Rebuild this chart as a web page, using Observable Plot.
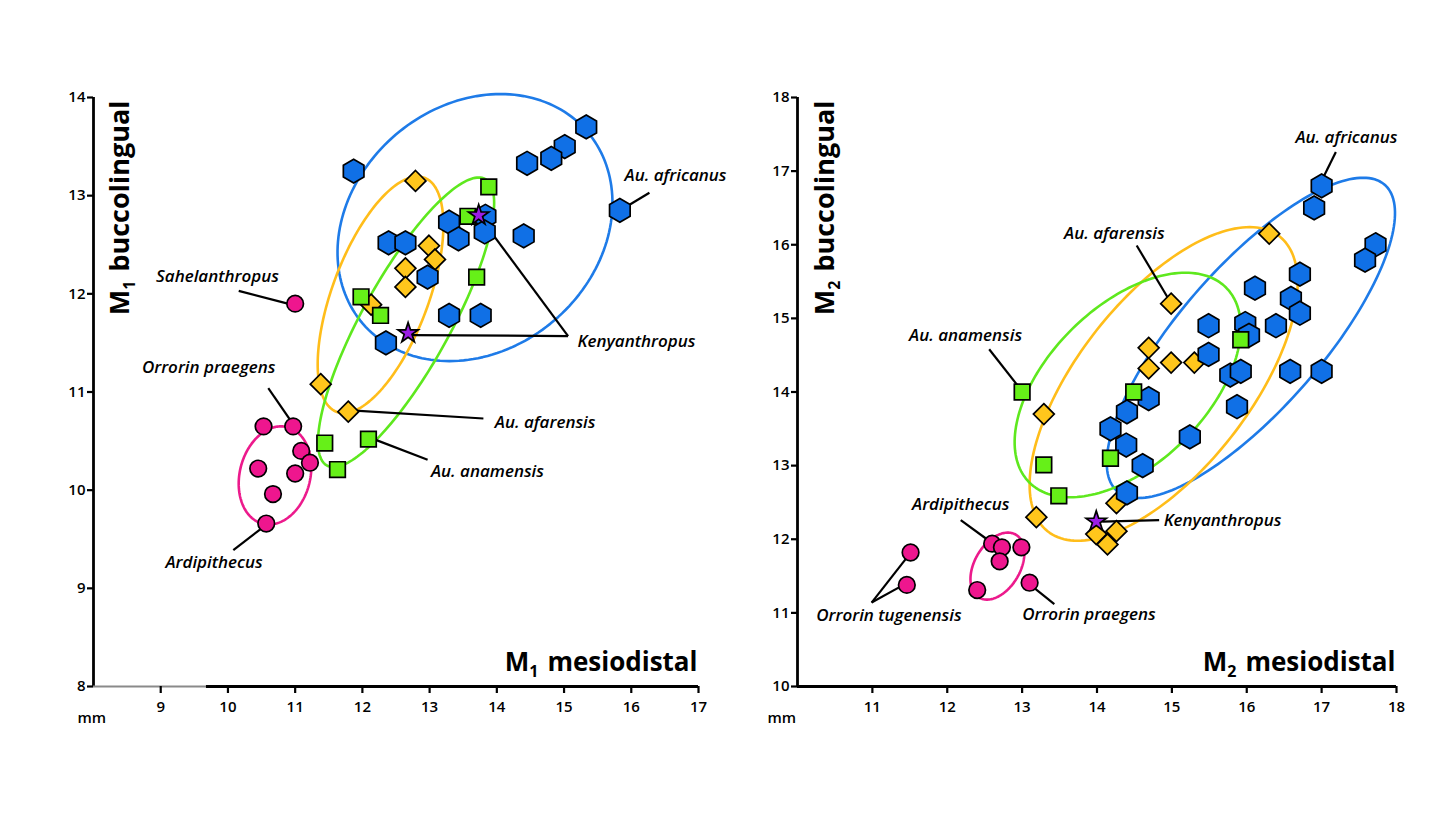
<!DOCTYPE html>
<html><head><meta charset="utf-8">
<script src="https://cdn.jsdelivr.net/npm/d3@7"></script>
<script src="https://cdn.jsdelivr.net/npm/@observablehq/plot@0.6"></script>
<style>
html,body{margin:0;padding:0;background:#fff;}
#wrap{position:relative;width:1456px;height:819px;overflow:hidden;}
#wrap > div{position:absolute;top:0;}
</style></head><body><div id="wrap"><div id="p1" style="left:0"></div><div id="p2" style="left:728px"></div></div>
<script>
// ---------- M1 (left panel) ----------
const m1PinkX = [11.0, 10.53, 10.97, 11.09, 11.22, 11.0, 10.45, 10.67, 10.57];
const m1PinkY = [11.9, 10.65, 10.65, 10.40, 10.28, 10.17, 10.22, 9.96, 9.66];
const m1AfarX = [12.79, 12.99, 13.08, 12.64, 12.64, 12.13, 11.38, 11.79];
const m1AfarY = [13.15, 12.49, 12.35, 12.26, 12.07, 11.89, 11.08, 10.80];
const m1AnamX = [13.88, 13.57, 13.70, 11.98, 12.27, 11.44, 12.09, 11.63];
const m1AnamY = [13.09, 12.79, 12.17, 11.97, 11.78, 10.48, 10.52, 10.21];
const m1AfrX = [11.87, 15.33, 15.01, 14.81, 14.45, 15.83, 14.40, 13.29, 13.43, 13.83, 13.82, 12.39, 12.64, 12.97, 13.29, 13.76, 12.35];
const m1AfrY = [13.25, 13.70, 13.50, 13.38, 13.33, 12.85, 12.59, 12.73, 12.56, 12.79, 12.63, 12.52, 12.52, 12.17, 11.78, 11.78, 11.50];
const m1KenX = [13.73, 12.68];
const m1KenY = [12.80, 11.60];
// ellipses: africanus, afarensis, anamensis, ardipithecus
const m1EllCx = [13.675, 12.27, 12.65, 10.70];
const m1EllCy = [12.675, 11.99, 11.71, 10.15];
const m1EllW  = [2.045, 0.935, 1.31, 0.54];
const m1EllH  = [1.36, 1.205, 1.475, 0.50];
const m1EllDx = [0.38, 0.55, 1.08, 0.09];
const m1LabelText = ["Au. africanus", "Kenyanthropus", "Sahelanthropus", "Orrorin praegens", "Au. afarensis", "Au. anamensis", "Ardipithecus"];
const m1LabelX = [15.90, 15.20, 8.93, 8.72, 13.97, 13.02, 9.07];
const m1LabelY = [13.20, 11.51, 12.18, 11.25, 10.69, 10.19, 9.26];
const m1LeadX1 = [16.27, 15.06, 15.06, 10.16, 10.60, 10.08, 11.89, 12.17];
const m1LeadY1 = [13.03, 11.57, 11.57, 12.03, 11.04, 9.39, 10.81, 10.52];
const m1LeadX2 = [15.98, 13.73, 12.72, 10.89, 10.92, 10.50, 13.80, 12.97];
const m1LeadY2 = [12.91, 12.80, 11.58, 11.90, 10.72, 9.61, 10.73, 10.31];
const m1XTicks = [9, 10, 11, 12, 13, 14, 15, 16, 17];
const m1YTicks = [8, 9, 10, 11, 12, 13, 14];

// ---------- M2 (right panel) ----------
const m2PinkX = [11.51, 11.46, 12.60, 12.73, 12.70, 12.99, 12.40, 13.10];
const m2PinkY = [11.82, 11.38, 11.94, 11.89, 11.70, 11.89, 11.31, 11.41];
const m2AfarX = [16.30, 14.99, 14.69, 14.69, 14.99, 15.30, 13.29, 14.26, 13.19, 13.99, 14.26, 14.14];
const m2AfarY = [16.15, 15.20, 14.60, 14.32, 14.40, 14.40, 13.70, 12.49, 12.30, 12.07, 12.11, 11.93];
const m2AnamX = [13.00, 14.49, 15.92, 13.29, 14.18, 13.49];
const m2AnamY = [14.00, 14.00, 14.71, 13.01, 13.10, 12.59];
const m2AfrX = [17.00, 16.90, 17.72, 17.58, 16.71, 16.11, 16.59, 16.71, 15.49, 15.98, 16.39, 16.03, 15.49, 15.78, 15.92, 16.58, 17.00, 15.87, 14.69, 14.40, 14.18, 14.39, 14.61, 15.24, 14.40];
const m2AfrY = [16.80, 16.50, 16.00, 15.79, 15.60, 15.41, 15.27, 15.07, 14.90, 14.93, 14.90, 14.77, 14.51, 14.23, 14.28, 14.28, 14.28, 13.80, 13.91, 13.73, 13.50, 13.28, 13.00, 13.39, 12.63];
const m2KenX = [13.99];
const m2KenY = [12.24];
const m2EllCx = [16.055, 14.89, 14.41, 12.67];
const m2EllCy = [14.735, 14.11, 14.095, 11.635];
const m2EllW  = [1.925, 1.79, 1.51, 0.36];
const m2EllH  = [2.175, 2.13, 1.525, 0.455];
const m2EllDx = [1.5, 1.15, 0.77, 0.14];
const m2LabelText = ["Au. africanus", "Au. afarensis", "Au. anamensis", "Ardipithecus", "Kenyanthropus", "Orrorin tugenensis", "Orrorin praegens"];
const m2LabelX = [16.65, 13.56, 11.49, 11.53, 14.89, 10.25, 13.00];
const m2LabelY = [17.45, 16.15, 14.77, 12.47, 12.25, 10.96, 10.98];
const m2LeadX1 = [17.19, 14.53, 12.56, 12.18, 14.07, 10.99, 10.99, 13.16];
const m2LeadY1 = [17.26, 15.99, 14.58, 12.26, 12.24, 11.14, 11.14, 11.34];
const m2LeadX2 = [17.03, 14.94, 12.97, 12.53, 14.83, 11.46, 11.38, 13.43];
const m2LeadY2 = [16.93, 15.29, 14.05, 12.00, 12.26, 11.75, 11.36, 11.12];
const m2XTicks = [11, 12, 13, 14, 15, 16, 17, 18];
const m2YTicks = [10, 11, 12, 13, 14, 15, 16, 17, 18];

// ---------- styling ----------
const C = {blue: "#1070e6", blueLine: "#1e7be8", yellow: "#ffc61c", yellowLine: "#ffbd1a",
  green: "#66f018", greenLine: "#5ee81e", pink: "#ee168e", pinkLine: "#ec1a8c", purple: "#9b1ee6"};
const ellColors = [C.blueLine, C.yellowLine, C.greenLine, C.pinkLine];
const FONT = "'Open Sans', 'Noto Sans', sans-serif";

const hexagon = {
  draw(ctx, size) {
    const rx = Math.sqrt(size / Math.PI), ry = rx * 2 / Math.sqrt(3), hy = ry / 2;
    ctx.moveTo(0, -ry); ctx.lineTo(rx, -hy); ctx.lineTo(rx, hy); ctx.lineTo(0, ry);
    ctx.lineTo(-rx, hy); ctx.lineTo(-rx, -hy); ctx.closePath();
  }
};

const pts = (xs, ys) => xs.map((x, i) => ({x, y: ys[i]}));
function ellipsePts(cx, cy, w, h, dx, n = 180) {
  const ax = Math.sqrt(w * w - dx * dx);
  return d3.range(n).map(i => {
    const t = 2 * Math.PI * i / n;
    return {x: cx + ax * Math.cos(t) + dx * Math.sin(t), y: cy + h * Math.sin(t)};
  });
}

function panel(cfg) {
  const marks = [];
  cfg.ell.cx.forEach((cx, i) => {
    marks.push(Plot.line(ellipsePts(cx, cfg.ell.cy[i], cfg.ell.w[i], cfg.ell.h[i], cfg.ell.dx[i]),
      {x: "x", y: "y", curve: "linear-closed", stroke: ellColors[i], strokeWidth: 2.6}));
  });
  const leads = cfg.lead.x1.map((x1, i) => ({x1, y1: cfg.lead.y1[i], x2: cfg.lead.x2[i], y2: cfg.lead.y2[i]}));
  marks.push(Plot.link(leads, {x1: "x1", y1: "y1", x2: "x2", y2: "y2", stroke: "black", strokeWidth: 2.2}));
  const dot = (data, symbol, fill, r) => Plot.dot(data, {x: "x", y: "y", symbol, fill, r, stroke: "black", strokeWidth: 1.7});
  marks.push(dot(cfg.pink, "circle", C.pink, 8.3));
  marks.push(dot(cfg.afar, d3.symbolDiamond2, C.yellow, 9.4));
  if (cfg.greenOnTop) {
    marks.push(dot(cfg.afr, hexagon, C.blue, 10.3));
    marks.push(dot(cfg.anam, "square", C.green, 8.8));
  } else {
    marks.push(dot(cfg.anam, "square", C.green, 8.8));
    marks.push(dot(cfg.afr, hexagon, C.blue, 10.3));
  }
  marks.push(dot(cfg.ken, "star", C.purple, 6.4));
  // axes
  marks.push(Plot.ruleX([cfg.xd[0]], {stroke: "black", strokeWidth: 2.8}));
  if (cfg.grayStart) {
    marks.push(Plot.ruleY([cfg.yd[0]], {x1: cfg.xd[0], x2: cfg.grayStart, stroke: "#8a8a8a", strokeWidth: 2.2}));
    marks.push(Plot.ruleY([cfg.yd[0]], {x1: cfg.grayStart, x2: cfg.xd[1], stroke: "black", strokeWidth: 2.8}));
  } else {
    marks.push(Plot.ruleY([cfg.yd[0]], {stroke: "black", strokeWidth: 2.8}));
  }
  const fmt = d => String(d);
  marks.push(Plot.axisY(cfg.yticks, {anchor: "left", tickSize: 6, tickPadding: 2, strokeWidth: 2.2, fontSize: 15, fontWeight: 600, label: null, tickFormat: fmt}));
  marks.push(Plot.axisX(cfg.xticks, {anchor: "bottom", tickSize: 7, tickPadding: 8, strokeWidth: 2.2, fontSize: 15, fontWeight: 600, label: null, tickFormat: fmt}));
  // labels
  const labs = cfg.lab.text.map((t, i) => ({t, x: cfg.lab.x[i], y: cfg.lab.y[i]}));
  marks.push(Plot.text(labs, {x: "x", y: "y", text: "t", textAnchor: "start", lineAnchor: "middle",
    fontStyle: "italic", fontWeight: 600, fontSize: 17, fill: "black"}));
  // titles
  marks.push(Plot.text([cfg.ytitle], {frameAnchor: "top-left", dx: cfg.ytdx, dy: 3, rotate: -90, textAnchor: "end",
    lineAnchor: "middle", fontSize: 27, fontWeight: 700, fill: "black", className: "ttl"}));
  marks.push(Plot.text([cfg.xtitle], {frameAnchor: "bottom-right", dx: -1, dy: -24, textAnchor: "end",
    lineAnchor: "middle", fontSize: 26, fontWeight: 700, fill: "black", className: "ttl"}));
  marks.push(Plot.text(["mm"], {frameAnchor: "bottom-left", dx: cfg.mmdx, dy: 36, fontSize: 15, fontWeight: 600, fill: "black"}));

  const svg = Plot.plot({
    width: cfg.width, height: 819,
    marginLeft: cfg.ml, marginRight: cfg.mr, marginTop: 97, marginBottom: 133,
    x: {domain: cfg.xd, axis: null},
    y: {domain: cfg.yd, axis: null},
    style: {fontFamily: FONT, color: "black", background: "transparent", overflow: "visible"},
    marks
  });
  // subscripts in titles
  d3.select(svg).selectAll("g.ttl text").each(function () {
    const el = d3.select(this);
    const s = el.text();
    const sub = s.charAt(1), rest = s.slice(2);
    el.text(null);
    el.append("tspan").text("M");
    el.append("tspan").attr("font-size", 16).attr("dy", 6).text(sub);
    el.append("tspan").attr("dy", -6).attr("dx", 9).text(rest.trim());
  });
  return svg;
}

document.getElementById("p1").append(panel({
  width: 740, ml: 93, mr: 42, xd: [8, 17], yd: [8, 14], grayStart: 9.68, mmdx: -16,
  pink: pts(m1PinkX, m1PinkY), afar: pts(m1AfarX, m1AfarY), anam: pts(m1AnamX, m1AnamY),
  afr: pts(m1AfrX, m1AfrY), ken: pts(m1KenX, m1KenY), greenOnTop: false,
  ell: {cx: m1EllCx, cy: m1EllCy, w: m1EllW, h: m1EllH, dx: m1EllDx},
  lead: {x1: m1LeadX1, y1: m1LeadY1, x2: m1LeadX2, y2: m1LeadY2},
  lab: {text: m1LabelText, x: m1LabelX, y: m1LabelY},
  xticks: m1XTicks, yticks: m1YTicks, ytitle: "M1 buccolingual", xtitle: "M1 mesiodistal", ytdx: 27
}));
document.getElementById("p2").append(panel({
  width: 728, ml: 69, mr: 60, xd: [10, 18], yd: [10, 18], mmdx: -30,
  pink: pts(m2PinkX, m2PinkY), afar: pts(m2AfarX, m2AfarY), anam: pts(m2AnamX, m2AnamY),
  afr: pts(m2AfrX, m2AfrY), ken: pts(m2KenX, m2KenY), greenOnTop: true,
  ell: {cx: m2EllCx, cy: m2EllCy, w: m2EllW, h: m2EllH, dx: m2EllDx},
  lead: {x1: m2LeadX1, y1: m2LeadY1, x2: m2LeadX2, y2: m2LeadY2},
  lab: {text: m2LabelText, x: m2LabelX, y: m2LabelY},
  xticks: m2XTicks, yticks: m2YTicks, ytitle: "M2 buccolingual", xtitle: "M2 mesiodistal", ytdx: 28
}));
</script></body></html>
